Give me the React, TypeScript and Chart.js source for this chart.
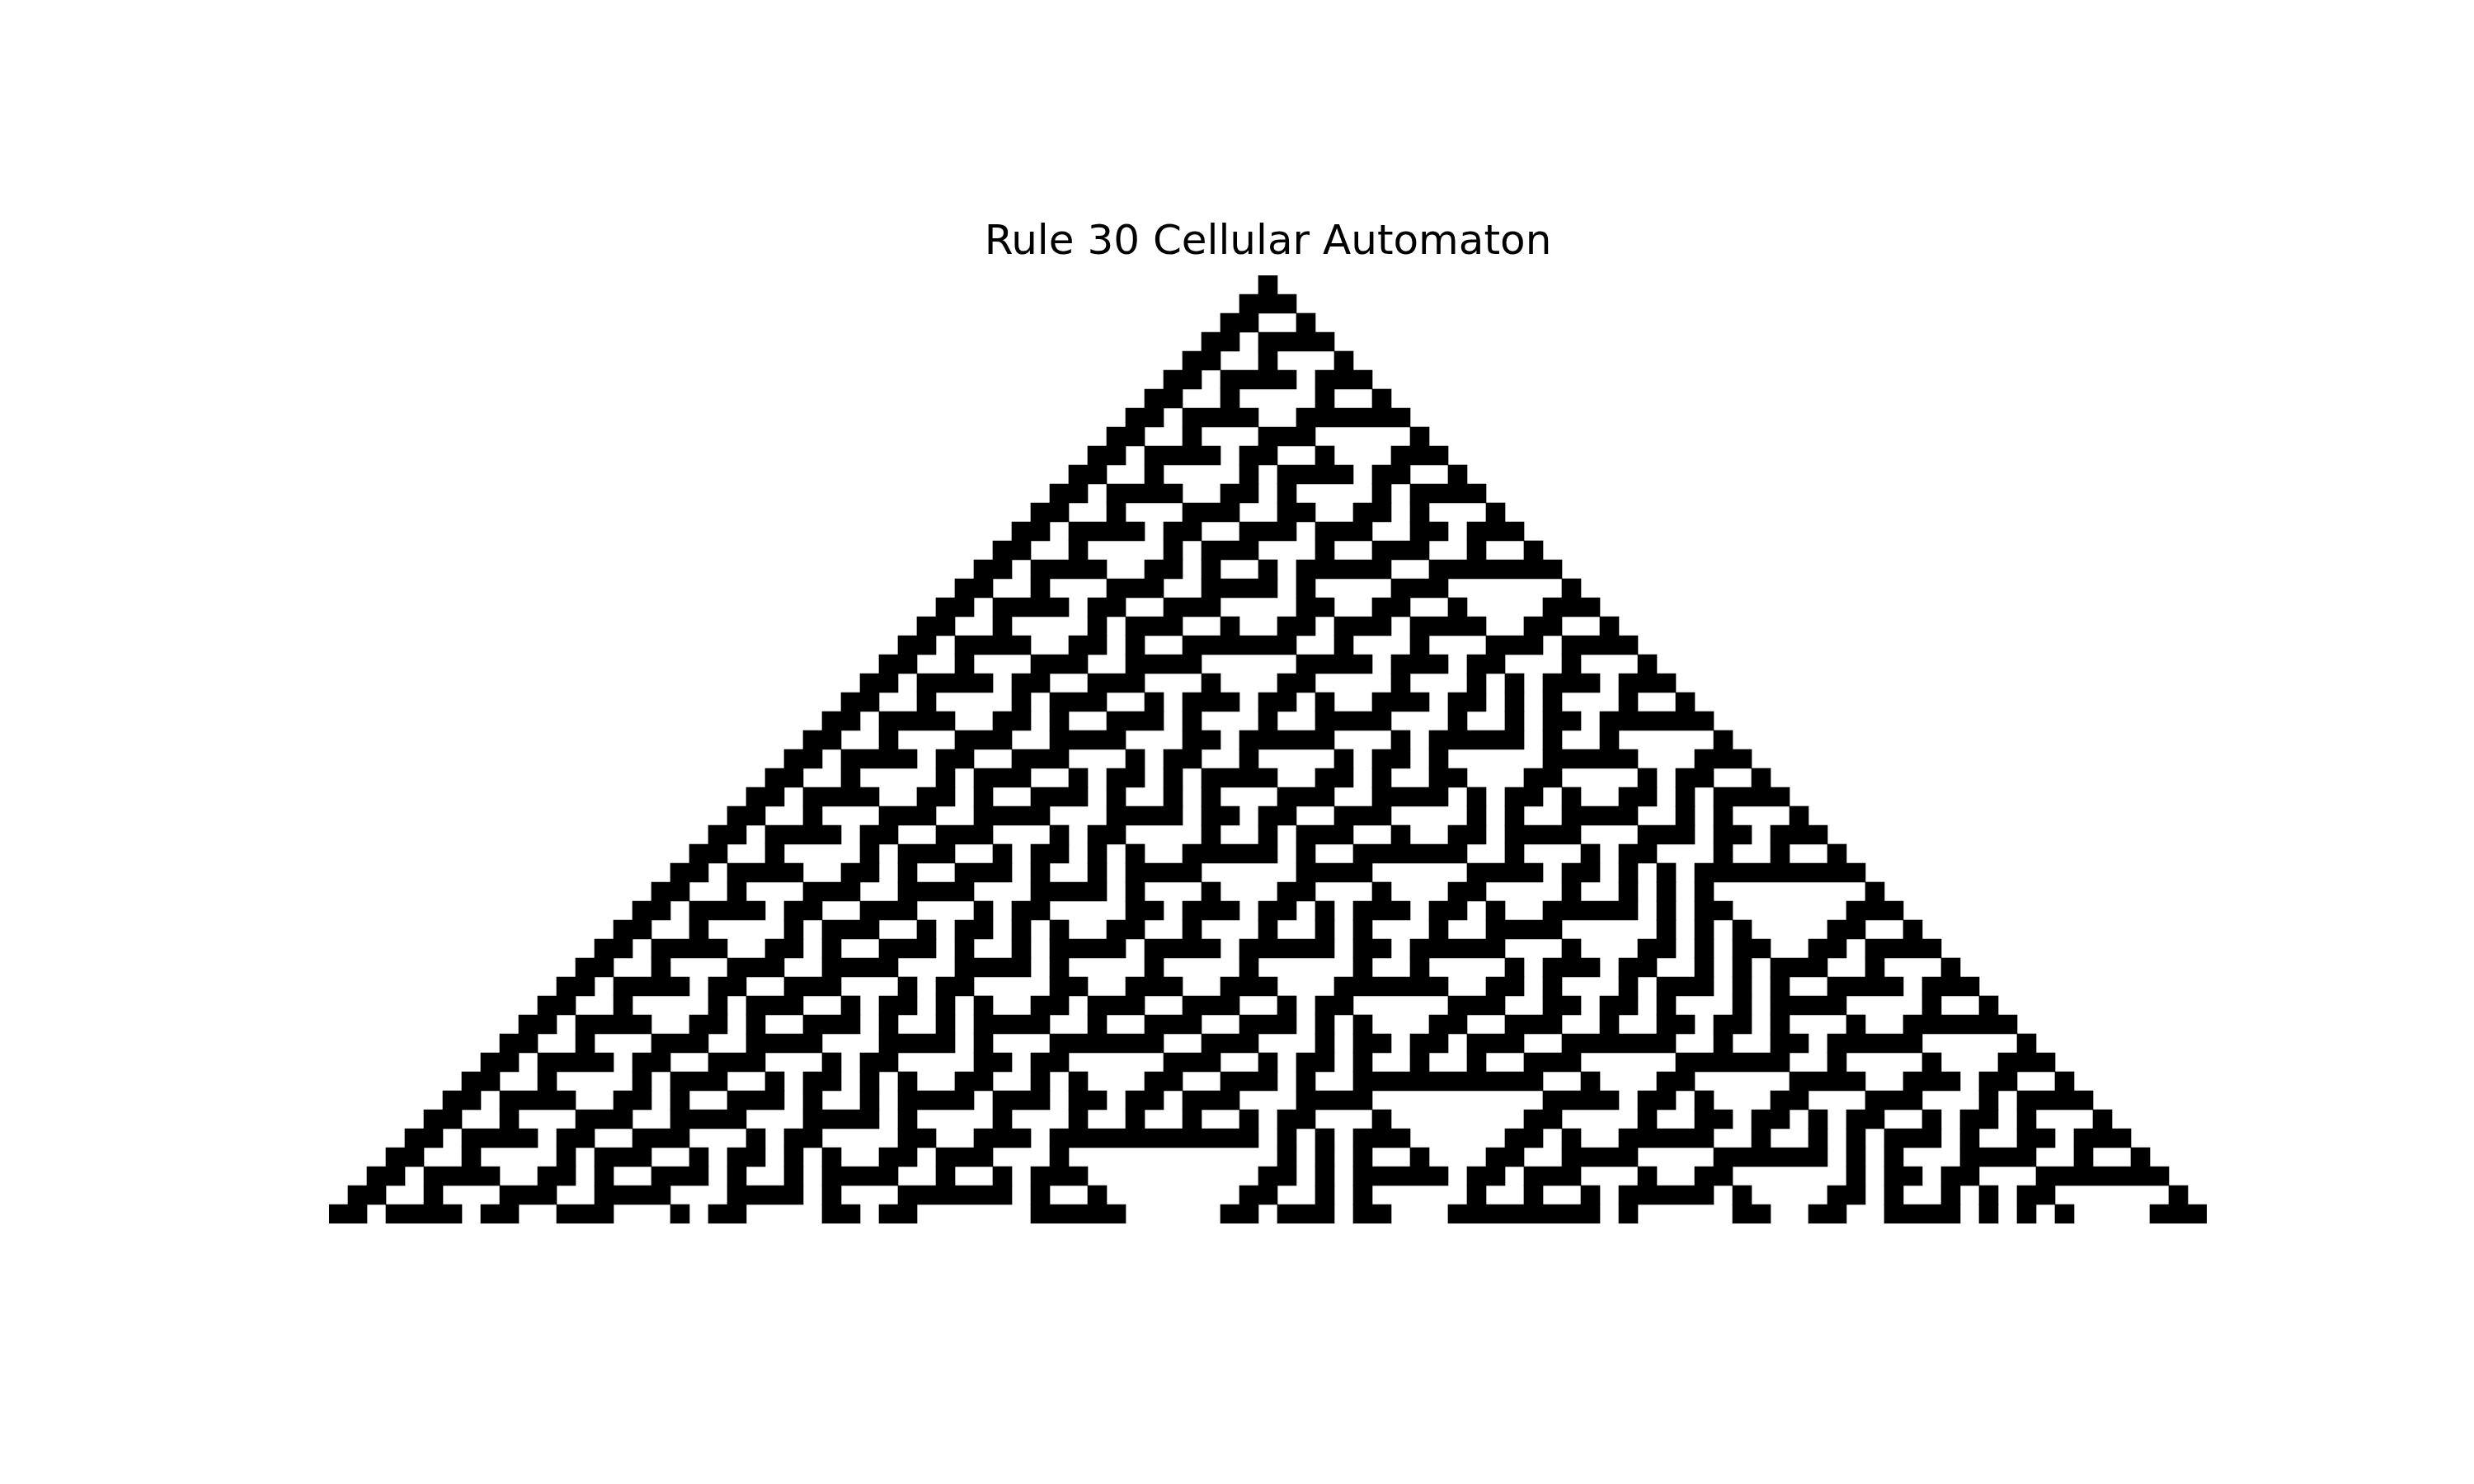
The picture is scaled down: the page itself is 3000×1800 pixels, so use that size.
import { useEffect, useRef } from "react";
import {
    Chart,
    BarController,
    BarElement,
    CategoryScale,
    LinearScale,
    Title,
} from "chart.js";

Chart.register(BarController, BarElement, CategoryScale, LinearScale, Title);

const TITLE = "Rule 30 Cellular Automaton";
const GRID_COLUMNS = 99;

// one string per generation, black = 1, centred on the middle column
const GENERATIONS: string[] = [
    "1",
    "111",
    "11001",
    "1101111",
    "110010001",
    "11011110111",
    "1100100001001",
    "110111100111111",
    "11001000111000001",
    "1101111011001000111",
    "110010000101111011001",
    "11011 11001 10100 00101 111",
    "11001 00011 10011 00110 10001",
    "11011 11011 00111 01110 01101 11",
    "11001 00001 01110 00100 11100 1001",
    "11011 11001 10100 10111 11001 11111 1",
    "11001 00011 10011 11010 00011 10000 001",
    "11011 11011 00111 00001 10011 00100 00111",
    "11001 00001 01110 01001 10111 01111 00110 01",
    "11011 11001 10100 11111 10010 00100 01110 1111",
    "11001 00011 10011 11000 00111 10111 01100 01000 1",
    "11011 11011 00111 00010 00110 00010 00101 01110 111",
    "11001 00001 01110 01011 10110 10011 10110 10100 01001",
    "11011 11001 10100 11101 00010 01111 00010 01011 01111 11",
    "11001 00011 10011 11000 11011 11100 01011 11101 00100 0001",
    "11011 11011 00111 00010 11001 00001 01101 00000 11111 00011 1",
    "11001 00001 01110 01011 01011 11001 10100 11000 11000 01011 001",
    "11011 11001 10100 11101 00101 00011 10011 11010 11010 01101 01111",
    "11001 00011 10011 11000 11110 11011 00111 00001 01001 11100 10100 01",
    "11011 11011 00111 00010 11000 01001 01110 01001 10111 10001 11011 0111",
    "11001 00001 01110 01011 01010 01111 10100 11111 10010 00101 10001 00100 1",
    "11011 11001 10100 11101 00101 11100 00011 11000 00111 10110 10101 11111 111",
    "11001 00011 10011 11000 11110 10001 00011 00010 00110 00010 01010 10000 00001",
    "11011 11011 00111 00010 11000 01101 11011 01011 10110 10011 11101 01100 00001 11",
    "11001 00001 01110 01011 01010 01100 10001 00101 00010 01111 00000 10101 00001 1001",
    "11011 11001 10100 11101 00101 11101 11101 11110 11011 11100 01000 11010 11001 10111 1",
    "11001 00011 10011 11000 11110 10000 10000 10000 01001 00001 01110 11001 01011 10010 001",
    "11011 11011 00111 00010 11000 01100 11100 11100 01111 11001 10100 01011 10101 00111 10111",
    "11001 00001 01110 01011 01010 01101 11001 11001 01100 00011 10011 01101 00010 11110 00010 01",
    "11011 11001 10100 11101 00101 11100 10011 10011 10101 00011 00111 00100 11011 01000 10011 1111",
    "11001 00011 10011 11000 11110 10001 11111 00111 00010 11011 01110 01111 11001 00110 11111 00000 1",
    "11011 11011 00111 00010 11000 01101 10000 01110 01011 01001 00100 11100 00011 11110 01000 01000 111",
    "11001 00001 01110 01011 01010 01100 10100 01100 11101 00111 11111 11001 00011 00000 11110 01110 11001",
    "11011 11001 10100 11101 00101 11101 11011 01101 11000 11110 00000 00011 11011 01000 11000 11100 01011 11",
    "11001 00011 10011 11000 11110 10000 10001 00100 10010 11000 10000 00011 00001 00110 11010 11001 01101 0001",
    "11011 11011 00111 00010 11000 01100 11101 11111 11111 01010 11100 00011 01001 11110 01001 01011 10100 11011 1",
    "11001 00001 01110 01011 01010 01101 11000 10000 00000 00101 01001 00011 00111 10000 11111 10101 00011 11001 001",
    "11011 11001 10100 11101 00101 11100 10010 11100 00000 00110 10111 11011 01110 00100 11000 00010 11011 00011 11111",
    "11001 00011 10011 11000 11110 10001 11111 01001 00000 00110 01010 00001 00100 10111 11010 00011 01001 01011 00000 01",
    "11011 11011 00111 00010 11000 01101 10000 00111 11000 00110 11101 10001 11111 11010 00001 10011 00111 10101 01000 0111",
];

const GENERATION_LABELS = GENERATIONS.map((_, i) => String(i));

// horizontal runs of black cells in one generation, in column units
function blackRuns(row: string): [number, number][] {
    const bits = row.replace(/\s/g, "");
    const offset = (GRID_COLUMNS - bits.length) / 2;
    const runs: [number, number][] = [];
    let start = -1;
    for (let k = 0; k <= bits.length; k++) {
        if (bits[k] === "1") {
            if (start < 0) start = k;
        } else if (start >= 0) {
            runs.push([offset + start - 0.5, offset + k - 0.5]);
            start = -1;
        }
    }
    return runs;
}

export default function App() {
    const canvasRef = useRef<HTMLCanvasElement>(null);
    const chartRef = useRef<Chart | null>(null);

    useEffect(() => {
        if (!canvasRef.current) return;
        const runsByRow = GENERATIONS.map(blackRuns);
        const maxRuns = Math.max(...runsByRow.map((r) => r.length));
        // dataset j holds the j-th black run of every row
        const datasets = Array.from({ length: maxRuns }, (_, j) => ({
            label: `run ${j + 1}`,
            data: runsByRow.map((runs) => runs[j] ?? null),
            backgroundColor: "#000000",
            borderWidth: 0,
            barPercentage: 1,
            categoryPercentage: 1,
            grouped: false,
        }));

        const config = {
            type: "bar",
            data: { labels: GENERATION_LABELS, datasets },
            options: {
                indexAxis: "y",
                animation: false,
                responsive: false,
                devicePixelRatio: 1,
                layout: { padding: { left: 399, right: 324, top: 0, bottom: 316 } },
                plugins: {
                    legend: { display: false },
                    tooltip: { enabled: false },
                    title: {
                        display: true,
                        text: TITLE,
                        color: "#000000",
                        font: { family: "DejaVu Sans", size: 50, weight: "normal", lineHeight: 1.2 },
                        padding: { top: 265, bottom: 9 },
                    },
                },
                scales: {
                    x: { type: "linear", min: -0.5, max: GRID_COLUMNS - 0.5, display: false },
                    y: { type: "category", display: false },
                },
            },
        };

        chartRef.current = new Chart(canvasRef.current, config as any);
        return () => {
            chartRef.current?.destroy();
            chartRef.current = null;
        };
    }, []);

    return (
        <div style={{ position: "fixed", left: 0, top: 0, width: 3000, height: 1800, background: "#ffffff" }}>
            <canvas ref={canvasRef} width={3000} height={1800} style={{ display: "block", width: 3000, height: 1800 }} />
        </div>
    );
}
